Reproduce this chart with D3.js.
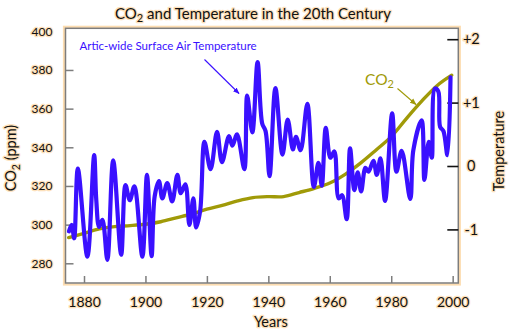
<!DOCTYPE html>
<html><head><meta charset="utf-8">
<script src="https://cdn.jsdelivr.net/npm/d3@7"></script>
<style>
body{margin:0;background:#fff;}
svg text{font-family:Lato,"Open Sans",sans-serif;}
.halo{paint-order:stroke;stroke:#fde1bb;stroke-width:2.6px;stroke-linejoin:round;}
</style></head><body><svg id="c" width="511" height="335"></svg>
<script>
// ---- data ----
const co2Years  = [1875,1880,1885,1890,1895,1900,1905,1910,1915,1920,1925,1930,1935,1940,1945,1950,1955,1960,1965,1970,1975,1980,1985,1990,1995,1999.7];
const co2Values = [293.3,295.5,297.8,299,299.5,300.2,301.5,303.5,305.5,308,310,312.3,314,314.5,314.5,316.6,318.8,321.5,326,331.8,338.5,345.5,355,364,372,377.3];
const tempYears = [1875.1,1876.0,1876.8,1878.0,1881.1,1883.3,1884.0,1884.9,1886.0,1887.6,1889.5,1892.1,1893.5,1894.9,1896.4,1899.0,1900.5,1902.0,1903.0,1904.4,1905.5,1907.1,1908.7,1910.4,1911.5,1913.0,1914.3,1915.6,1916.5,1917.8,1919.2,1921.2,1923.3,1924.9,1927.2,1928.3,1929.8,1932.2,1933.1,1934.8,1936.5,1938.0,1939.1,1940.4,1942.3,1944.6,1946.3,1948.0,1949.0,1950.5,1952.7,1954.8,1956.3,1957.4,1958.7,1960.2,1961.5,1962.9,1964.0,1965.5,1966.6,1968.0,1969.1,1970.2,1971.6,1972.6,1974.2,1975.3,1976.5,1978.0,1980.3,1981.7,1983.4,1986.2,1987.2,1989.9,1990.8,1992.2,1993.2,1994.2,1995.3,1995.9,1997.0,1998.3,1999.3];
const tempValues = [-1.03,-0.93,-1.14,-0.04,-1.43,0.17,-0.54,-0.96,-0.85,-1.48,0.09,-1.40,-0.30,-0.54,-0.32,-1.43,-0.14,-1.42,-0.48,-0.24,-0.51,-0.27,-0.56,-0.14,-0.43,-0.29,-0.93,-0.51,-0.97,-0.71,0.38,-0.05,0.54,0.06,0.47,0.32,0.50,-0.05,1.11,0.53,1.64,0.67,0.55,-0.16,1.23,0.18,0.73,0.26,0.46,0.25,0.98,-0.33,0.05,-0.31,0.60,0.13,0.23,-0.51,-0.46,-0.84,0.28,-0.38,-0.10,-0.40,-0.03,-0.09,0.08,-0.14,0.12,-0.55,0.83,-0.09,0.24,-0.52,0.25,0.72,-0.22,0.38,0.13,1.22,1.18,0.62,0.55,0.17,1.40];
const yearTicks = [1880,1900,1920,1940,1960,1980,2000];
const co2Ticks = [280,300,320,340,360,380,400];
const tempTicks = [-1,0,1,2];
const tempTickLabels = ["-1","0","+1","+2"];

// ---- layout ----
const svg = d3.select("#c");
const L = 65.5, R = 458.3, T = 28.3, B = 283;
const x  = d3.scaleLinear().domain([1874, 2001.8]).range([65.57, 458.2]);
const yL = d3.scaleLinear().domain([280, 400]).range([263.3, 31.3]);
const yR = d3.scaleLinear().domain([-1, 2]).range([229.4, 39.2]);
const BLUE = "#3a10ff", OLIVE = "#a09a08", GRAY = "#7d7d7d", PEACH = "#fcdcb0";

// frame halo + frame
svg.append("rect").attr("x", L-1.5).attr("y", T-1.5).attr("width", R-L+3).attr("height", B-T+3)
  .attr("fill","none").attr("stroke",PEACH).attr("stroke-width",2.2);
svg.append("rect").attr("x", L).attr("y", T).attr("width", R-L).attr("height", B-T)
  .attr("fill","none").attr("stroke",GRAY).attr("stroke-width",1.5);

// bottom axis
const gx = svg.append("g").attr("transform",`translate(0,${B})`)
  .call(d3.axisBottom(x).tickValues(yearTicks).tickSize(-7).tickFormat(d3.format("d")));
gx.select(".domain").remove();
gx.selectAll("line").attr("stroke",GRAY).attr("stroke-width",1.5);
gx.selectAll("text").attr("y",23.7).attr("dy",null).attr("font-size",14).attr("fill","#111").attr("class","halo");

// left axis
const gl = svg.append("g").attr("transform",`translate(${L},0)`)
  .call(d3.axisLeft(yL).tickValues(co2Ticks).tickSize(-8).tickPadding(13));
gl.select(".domain").remove();
gl.selectAll("line").attr("stroke",GRAY).attr("stroke-width",1.5);
gl.selectAll(".tick").filter(d=>d===400).select("line").remove();
gl.selectAll("text").attr("font-size",12).attr("fill","#111").attr("class","halo");

// right axis
const gr = svg.append("g").attr("transform",`translate(${R},0)`)
  .call(d3.axisRight(yR).tickValues(tempTicks).tickSize(-11).tickFormat((d,i)=>tempTickLabels[i]));
gr.select(".domain").remove();
gr.selectAll("line").attr("stroke","#111").attr("stroke-width",1.6);
gr.selectAll("text").attr("x",13).attr("text-anchor","middle").attr("font-size",14.5).attr("fill","#111").attr("class","halo");

// CO2 line
const co2Data = co2Years.map((y,i)=>({year:y, v:co2Values[i]}));
svg.append("path").datum(co2Data)
  .attr("d", d3.line().x(d=>x(d.year)).y(d=>yL(d.v)).curve(d3.curveCatmullRom))
  .attr("fill","none").attr("stroke",OLIVE).attr("stroke-width",3.4).attr("stroke-linecap","round");

// Temperature line
const tData = tempYears.map((y,i)=>({year:y, v:tempValues[i]}));
svg.append("path").datum(tData)
  .attr("d", d3.line().x(d=>x(d.year)).y(d=>yR(d.v)).curve(d3.curveCatmullRom))
  .attr("fill","none").attr("stroke",BLUE).attr("stroke-width",4.2)
  .attr("stroke-linejoin","round").attr("stroke-linecap","round");

// arrows
const defs = svg.append("defs");
function marker(id,color){
  defs.append("marker").attr("id",id).attr("viewBox","0 0 10 10").attr("refX",9).attr("refY",5)
    .attr("markerWidth",6).attr("markerHeight",6).attr("orient","auto")
    .append("path").attr("d","M0,1 L10,5 L0,9 Z").attr("fill",color);
}
marker("ab",BLUE); marker("ao",OLIVE);
svg.append("line").attr("x1",204.5).attr("y1",59.5).attr("x2",239).attr("y2",93.5)
  .attr("stroke",BLUE).attr("stroke-width",1.1).attr("marker-end","url(#ab)");
svg.append("line").attr("x1",397.5).attr("y1",88.5).attr("x2",416).attr("y2",104.5)
  .attr("stroke",OLIVE).attr("stroke-width",1.1).attr("marker-end","url(#ao)");

// labels
svg.append("text").attr("x",79.5).attr("y",50.2).attr("font-size",11.5).attr("fill",BLUE)
  .text("Artic-wide Surface Air Temperature");
const co2t = svg.append("text").attr("x",365).attr("y",85).attr("font-size",15.5).attr("fill",OLIVE);
co2t.append("tspan").text("CO");
co2t.append("tspan").attr("font-size",11).attr("dy",3).text("2");

// title
const tt = svg.append("text").attr("x",253).attr("y",18.5).attr("text-anchor","middle")
  .attr("font-size",15).attr("fill","#111").attr("class","halo");
tt.append("tspan").text("CO");
tt.append("tspan").attr("font-size",11).attr("dy",3.5).text("2");
tt.append("tspan").attr("dy",-3.5).text(" and Temperature in the 20th Century");

// axis titles
svg.append("text").attr("x",270.8).attr("y",327.3).attr("text-anchor","middle")
  .attr("font-size",14.5).attr("fill","#111").attr("class","halo").text("Years");
const yl = svg.append("text").attr("transform","translate(16,158) rotate(-90)").attr("text-anchor","middle")
  .attr("font-size",14.5).attr("fill","#111").attr("class","halo");
yl.append("tspan").text("CO");
yl.append("tspan").attr("font-size",10.5).attr("dy",3.5).text("2");
yl.append("tspan").attr("dy",-3.5).text(" (ppm)");
svg.append("text").attr("transform","translate(503.5,151) rotate(-90)").attr("text-anchor","middle")
  .attr("font-size",14.5).attr("fill","#111").attr("class","halo").text("Temperature");
</script></body></html>
